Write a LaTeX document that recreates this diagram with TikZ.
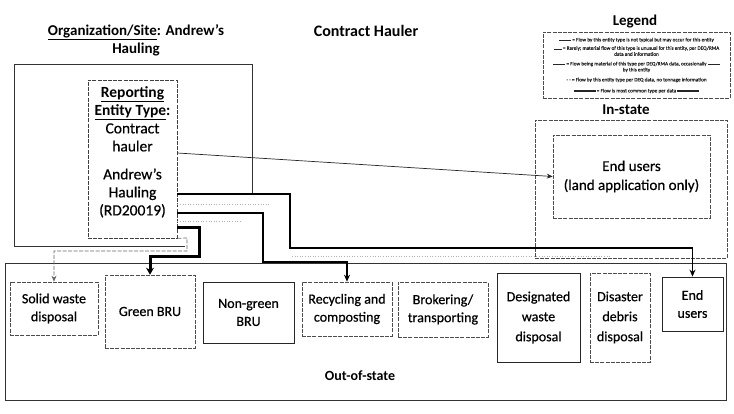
\documentclass[tikz,border=0pt]{standalone}
\usepackage{fontspec}
\setmainfont{Carlito}[UprightFeatures={FakeBold=0.5}]
\usetikzlibrary{arrows.meta}
\begin{document}
\begin{tikzpicture}[x=1pt,y=-1pt,
  box/.style={draw=black!85, line width=0.8pt, align=center, inner sep=1pt,
    font=\fontsize{14}{18}\selectfont},
  container/.style={draw=black!80, line width=0.8pt, inner sep=0pt},
  dashbox/.style={draw=black!70, line width=0.6pt, dash pattern=on 4pt off 1.2pt, inner sep=0pt},
  heading/.style={font=\bfseries\fontsize{15}{18}\selectfont, align=center},
  thinflow/.style={draw=black!85, line width=0.7pt, -{Stealth[length=6pt,width=5pt]}},
  midflow/.style={draw=black, line width=1.3pt, -{Stealth[length=7pt,width=6pt]}},
  thickflow/.style={draw=black, line width=3pt, -{Stealth[length=7pt,width=8pt]}},
  dashflow/.style={draw=black!60, line width=0.7pt, dash pattern=on 4pt off 1.5pt, -{Stealth[length=6pt,width=5pt]}},
  faint/.style={draw=black!30, line width=0.6pt, dotted},
  legtext/.style={font=\fontsize{5.2}{6}\selectfont, text=black!85, align=center, inner sep=0pt}
]
\useasboundingbox (0,0) rectangle (734,414);

% titles
\node[heading] (orgtitle) at (136,40) {\underline{Organization/Site}: Andrew's\\Hauling};
\node[heading, font=\bfseries\fontsize{16}{18}\selectfont] (maintitle) at (366,31) {Contract Hauler};
\node[heading] (legtitle) at (635,22) {Legend};
\node[heading] (intitle) at (626,110) {In-state};

% legend
\node[dashbox, minimum width=187pt, minimum height=66pt] (legend) at (636.5,65) {};
\node[legtext] (l1) at (636.5,40) {\rule[0.8pt]{12pt}{0.3pt} = Flow by this entity type is not typical but may occur for this entity};
\node[legtext] (l2) at (636.5,51) {\rule[0.8pt]{8pt}{0.3pt} = Rarely; material flow of this type is unusual for this entity, per DEQ/RMA\\ data and information};
\node[legtext] (l3) at (636.5,67) {\rule[0.8pt]{12pt}{0.8pt} = Flow being material of this type per DEQ/RMA data, occasionally \rule[0.8pt]{12pt}{0.8pt}\\ by this entity};
\node[legtext] (l4) at (636.5,80) {- - = Flow by this entity type per DEQ data, no tonnage information};
\node[legtext] (l5) at (636.5,91) {\rule[0.8pt]{22pt}{1.4pt} = Flow is most common type per data \rule[0.8pt]{22pt}{1.4pt}};

% organization container (drawn partly, as in the reference)
\node[minimum width=237pt, minimum height=181pt, inner sep=0pt] (org) at (133.5,155.5) {};
\draw[draw=black!80, line width=0.9pt] ([xshift=170pt]org.south west) -- (org.south west) -- (org.north west) -- (org.north east) -- (org.east |- 0,194);

% reporting entity
\node[dashbox, draw=black!75, minimum width=89pt, minimum height=158pt] (rep) at (132.5,159) {};
\node[align=center, inner sep=0pt, font=\fontsize{15.5}{18}\selectfont] (reptext) at (132.5,152)
  {\textbf{\underline{Reporting}}\\\textbf{\underline{Entity Type}:}\\Contract\\hauler\\[10pt]Andrew's\\Hauling\\(RD20019)};

% in-state
\node[dashbox, minimum width=192pt, minimum height=138pt] (instate) at (631,189) {};
\node[box, dashbox, minimum width=157pt, minimum height=83pt, font=\fontsize{15}{19}\selectfont] (eula) at (631.5,176.5)
  {End users\\(land application only)};

% out-of-state
\node[container, line width=1pt, minimum width=721pt, minimum height=136pt] (outstate) at (365.5,332) {};
\node[heading, font=\bfseries\fontsize{14}{16}\selectfont] (outtitle) at (360,376) {Out-of-state};

\node[box, dashbox, minimum width=88pt, minimum height=53pt] (sw) at (54,308.5) {Solid waste\\disposal};
\node[box, dashbox, minimum width=90pt, minimum height=73pt] (gb) at (150,311.5) {Green BRU};
\node[box, minimum width=91pt, minimum height=61pt] (ngb) at (248.5,312.5) {Non-green\\BRU};
\node[box, dashbox, minimum width=90pt, minimum height=54pt] (rc) at (347,309) {Recycling and\\composting};
\node[box, dashbox, minimum width=90pt, minimum height=55pt] (bt) at (443,309.5) {Brokering/\\transporting};
\node[box, minimum width=83pt, minimum height=89pt, font=\fontsize{14}{20}\selectfont] (dw) at (538.5,317.5) {Designated\\waste\\disposal};
\node[box, dashbox, minimum width=60pt, minimum height=89pt, font=\fontsize{14}{20}\selectfont] (dd) at (620,317.5) {Disaster\\debris\\disposal};
\node[box, minimum width=61pt, minimum height=54pt] (eu) at (692.5,304) {End\\users};

% faint remnants
\coordinate (f1) at (270,204);
\coordinate (f2) at (240,221);
\coordinate (f3a) at (292,256);
\coordinate (f3b) at (610,256);
\draw[faint] (rep.east |- f1) -- (f1);
\draw[faint] (rep.east |- f2) -- (f2);
\draw[faint] (f3a) -- (f3b);

% connectors
\draw[thinflow] (rep.east |- 0,153) -- (eula.west);
\draw[midflow, line width=1.1pt] (rep.east |- 0,194) -- (290,194) -- (290,248) -| (eu.north);
\draw[midflow] (rep.east |- 0,213) -- (263,213) -- (263,262) -| (rc.north);
\draw[thickflow] (rep.east |- 0,228) -- (199,228) -- (199,257) -| (gb.north);
\draw[dashflow] (rep.south east) -- (187,238) -- (187,251) -| (sw.north);
\end{tikzpicture}
\end{document}
